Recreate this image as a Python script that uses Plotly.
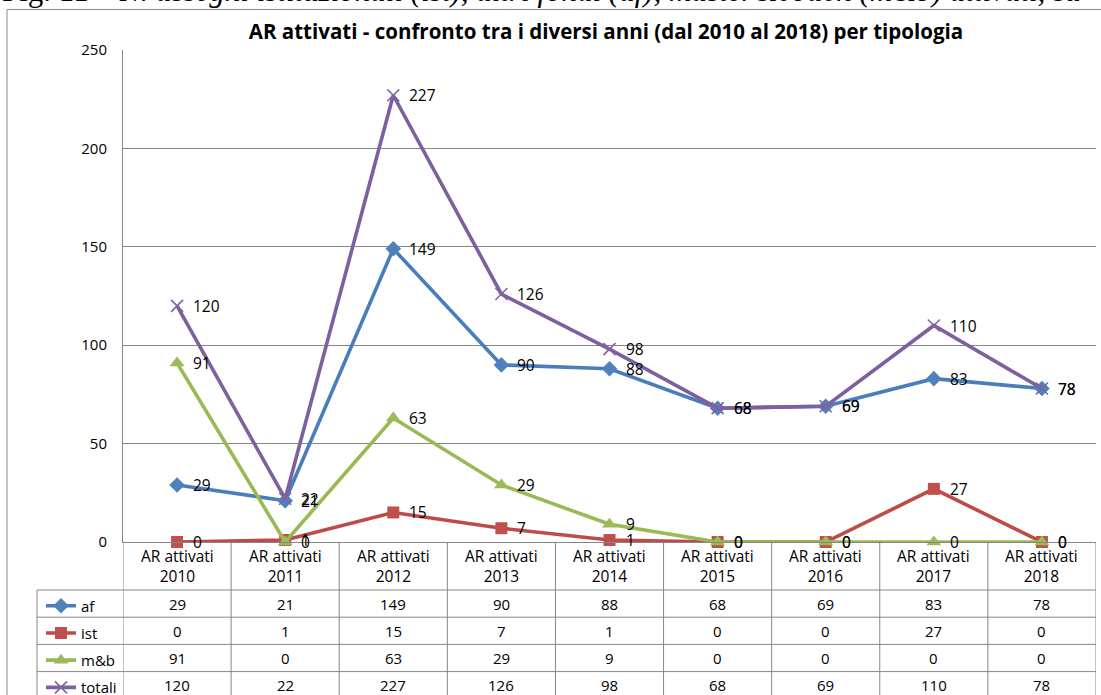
import plotly.graph_objects as go

# ---------------- data ----------------
years = ["2010", "2011", "2012", "2013", "2014", "2015", "2016", "2017", "2018"]
header_prefix = "AR attivati"
af = [29, 21, 149, 90, 88, 68, 69, 83, 78]
ist = [0, 1, 15, 7, 1, 0, 0, 27, 0]
mb = [91, 0, 63, 29, 9, 0, 0, 0, 0]
totali = [120, 22, 227, 126, 98, 68, 69, 110, 78]
series_names = ["af", "ist", "m&b", "totali"]
y_ticks = [0, 50, 100, 150, 200, 250]

title_text = "AR attivati - confronto tra i diversi anni (dal 2010 al 2018) per tipologia"
caption_text = ("Fig. 11 – <i>N. assegni istituzionali (ist), altri fondi (af), "
                "master&amp;coach (m&amp;b) attivati, su</i>")

# ---------------- layout geometry (pixels) ----------------
W, H = 1101, 695
L, R, T, B = 123, 5, 50, 153
PW, PH = W - L - R, H - T - B
FONT = "Open Sans"
GRID = "#868686"


def pxx(px):
    return (px - L) / PW


def pxy(py):
    return (H - B - py) / PH


header_top, header_bot = 542, 590
row_h = 27.2
row_lines = [header_bot + row_h * (i + 1) for i in range(4)]
legend_left = 37

colors = {
    "af": ("#4A7EBB", "#4F81BD", "diamond", 12),
    "ist": ("#BE4B48", "#C0504D", "square", 12),
    "m&b": ("#98B954", "#9BBB59", "triangle-up", 13),
    "totali": ("#7D60A0", "#8064A2", "x-thin", 12),
}
values = {"af": af, "ist": ist, "m&b": mb, "totali": totali}
idx = list(range(len(years)))

fig = go.Figure()
for name in series_names:
    lc, mc, sym, ms = colors[name]
    vals = values[name]
    marker = dict(symbol=sym, size=ms, color=mc)
    if sym == "x-thin":
        marker["line"] = dict(color=mc, width=1.6)
    fig.add_trace(go.Scatter(
        x=years, y=vals, name=name, legendgroup=name,
        mode="lines+markers",
        line=dict(color=lc, width=3.6),
        marker=marker,
        cliponaxis=False,
    ))

annotations = []
# data labels (right of each point)
for name in series_names:
    for i, v in zip(idx, values[name]):
        annotations.append(dict(x=i, xref="x", y=v, yref="y", text=str(v),
                                showarrow=False, xanchor="left", yanchor="middle",
                                xshift=14,
                                font=dict(family=FONT, size=15.5, color="#000000")))

shapes = []
# outer chart border
shapes.append(dict(type="rect", xref="paper", yref="paper",
                   x0=pxx(7), x1=pxx(1120), y0=pxy(9.5), y1=pxy(720),
                   line=dict(color="#8A8A8A", width=1), layer="below"))
# table horizontal lines
for py in [header_bot] + row_lines:
    shapes.append(dict(type="line", xref="paper", yref="paper",
                       x0=pxx(legend_left), x1=1, y0=pxy(py), y1=pxy(py),
                       line=dict(color=GRID, width=1)))
# table vertical lines (category boundaries)
n = len(years)
for i in range(n + 1):
    shapes.append(dict(type="line", xref="x", yref="paper",
                       x0=i - 0.5, x1=i - 0.5, y0=0, y1=pxy(row_lines[-1]),
                       line=dict(color=GRID, width=1)))
# legend column left border
shapes.append(dict(type="line", xref="paper", yref="paper",
                   x0=pxx(legend_left), x1=pxx(legend_left),
                   y0=pxy(header_bot), y1=pxy(row_lines[-1]),
                   line=dict(color=GRID, width=1)))

# header cells
for i, yr in zip(idx, years):
    annotations.append(dict(x=i, xref="x", y=pxy((header_top + header_bot) / 2),
                            yref="paper", text=header_prefix + "<br>" + yr,
                            showarrow=False, xanchor="center", yanchor="middle",
                            font=dict(family=FONT, size=15.5, color="#000000")))
# value cells
for r, name in enumerate(series_names):
    top = header_bot if r == 0 else row_lines[r - 1]
    cy = (top + row_lines[r]) / 2
    for i, v in zip(idx, values[name]):
        annotations.append(dict(x=i, xref="x", y=pxy(cy), yref="paper",
                                text=str(v), showarrow=False,
                                xanchor="center", yanchor="middle",
                                font=dict(family=FONT, size=15, color="#000000")))
# caption above chart (cut at top)
annotations.append(dict(x=pxx(0), xref="paper", y=pxy(10), yref="paper",
                        text=caption_text, showarrow=False,
                        xanchor="left", yanchor="bottom",
                        font=dict(family="Liberation Serif", size=31, color="#000000")))

fig.update_layout(
    width=W, height=H,
    margin=dict(l=L, r=R, t=T, b=B, pad=0, autoexpand=False),
    paper_bgcolor="white", plot_bgcolor="white",
    title=dict(text="<b>" + title_text + "</b>", xref="container", yref="container",
               x=606 / W, y=1 - 32 / H, xanchor="center", yanchor="middle",
               font=dict(family=FONT, size=20.5, color="#000000")),
    xaxis=dict(type="category", categoryorder="array", categoryarray=years,
               range=[-0.5, n - 0.5], showticklabels=False, showgrid=False,
               showline=True, linecolor=GRID, linewidth=1, ticks="",
               zeroline=False, fixedrange=True),
    yaxis=dict(range=[0, 250], tickvals=y_ticks, showgrid=True, gridcolor=GRID,
               gridwidth=1, showline=True, linecolor=GRID, linewidth=1,
               ticks="", ticklabelstandoff=12, zeroline=False,
               tickfont=dict(family=FONT, size=15, color="#000000")),
    showlegend=True,
    legend=dict(x=pxx(41), xanchor="left", y=pxy(589.5), yanchor="top",
                traceorder="grouped", tracegroupgap=4.7,
                font=dict(family=FONT, size=15, color="#000000"),
                bgcolor="rgba(0,0,0,0)", borderwidth=0, itemwidth=30),
    shapes=shapes, annotations=annotations,
)

fig.write_html("out.html", config={"displayModeBar": False},
               post_script="document.body.style.margin='0';")
